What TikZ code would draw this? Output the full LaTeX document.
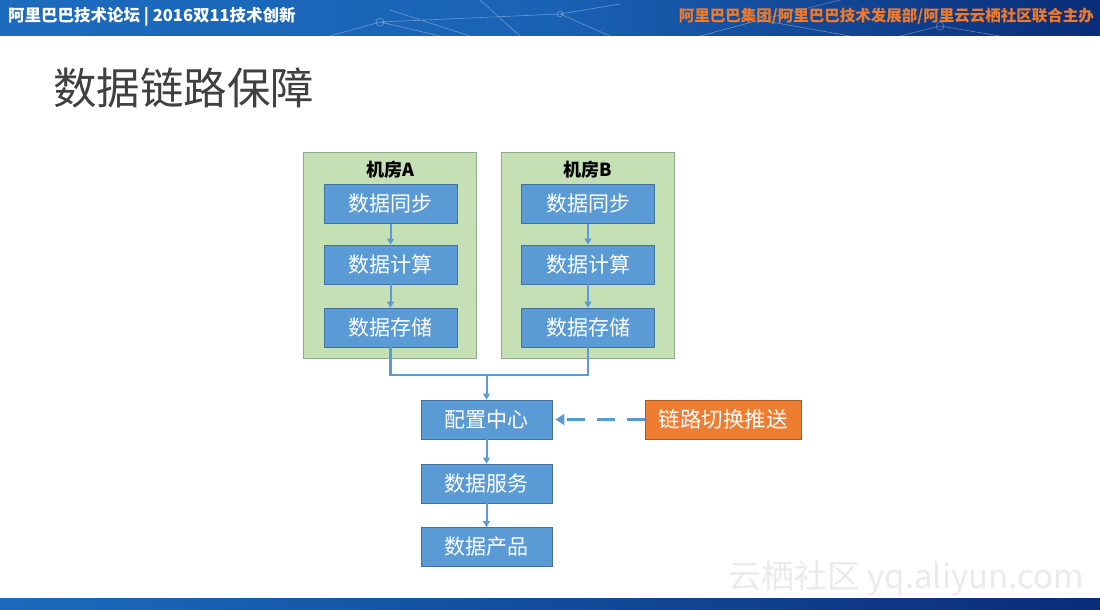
\documentclass[tikz,border=0pt]{standalone}
\usepackage{fontspec}
\setmainfont{Noto Sans CJK SC}
\usetikzlibrary{arrows.meta}
\definecolor{boxblue}{HTML}{5B9BD5}
\definecolor{boxedge}{HTML}{41719C}
\definecolor{roomgreen}{HTML}{C5E0B4}
\definecolor{roomedge}{HTML}{8FA98A}
\definecolor{orangebox}{HTML}{ED7D31}
\definecolor{orangeedge}{HTML}{AE5A21}
\definecolor{titlegray}{HTML}{404040}
\definecolor{bannerA}{HTML}{1C6BBE}
\definecolor{bannerM}{HTML}{1A62B4}
\definecolor{bannerB}{HTML}{0A2C78}
\definecolor{bannerorange}{HTML}{F07A2A}
\tikzset{
  stepbox/.style={draw=boxedge, line width=0.8pt, fill=boxblue, text=white,
    minimum width=133pt, minimum height=39pt, inner sep=0pt, font=\fontsize{21}{21}\selectfont},
  roombox/.style={draw=roomedge, line width=0.8pt, fill=roomgreen,
    minimum width=173pt, minimum height=206pt, inner sep=0pt},
  roomtitle/.style={font=\fontsize{18}{18}\selectfont\bfseries, text=black, inner sep=0pt},
  flow/.style={draw=boxblue, line width=2pt, -{Triangle[length=6pt,width=7pt]}},
  bus/.style={draw=boxblue, line width=2.5pt},
  net/.style={draw=white, opacity=0.35, line width=0.6pt}
}
\begin{document}
\begin{tikzpicture}[x=1pt,y=-1pt]
\useasboundingbox (0,0) rectangle (1100,610);
\fill[white] (0,0) rectangle (1100,610);
% top banner
\shade[left color=bannerA, right color=bannerB, middle color=bannerM] (0,0) rectangle (1100,36);
\draw[net] (330,36) -- (380,22) -- (440,36) (380,22) -- (560,14) -- (610,36) (560,14) -- (620,4)
  (700,36) -- (760,20) -- (840,0) (760,20) -- (850,36) (900,36) -- (940,26) -- (1000,36)
  (390,10) -- (470,36) (480,0) -- (520,36);
\draw[net] (940,26) circle (4pt) (380,22) circle (4pt) (560,14) circle (3pt);
\node[anchor=west, text=white, font=\fontsize{16.5}{16.5}\selectfont\bfseries, inner sep=0pt] (btitle) at (8,17) {阿里巴巴技术论坛 | 2016双11技术创新};
\node[anchor=east, text=bannerorange, font=\fontsize{15.5}{15.5}\selectfont\bfseries, inner sep=0pt] (borg) at (1094,16) {阿里巴巴集团/阿里巴巴技术发展部/阿里云云栖社区联合主办};
% bottom banner
\shade[left color=bannerA, right color=bannerB] (0,598) rectangle (1100,610);
% title
\node[anchor=west, text=titlegray, font=\fontsize{43.5}{43.5}\selectfont, inner sep=0pt] (title) at (53,88) {数据链路保障};
% rooms
\node[roombox] (roomA) at (389.5,255) {};
\node[roombox] (roomB) at (588,255) {};
\node[roomtitle] (tA) at (390,170) {机房A};
\node[roomtitle] (tB) at (588,170) {机房B};
% room A steps
\node[stepbox] (syncA) at (390.5,204) {数据同步};
\node[stepbox] (calcA) at (390.5,264.5) {数据计算};
\node[stepbox] (storA) at (390.5,327.5) {数据存储};
% room B steps
\node[stepbox] (syncB) at (588,204) {数据同步};
\node[stepbox] (calcB) at (588,264.5) {数据计算};
\node[stepbox] (storB) at (588,327.5) {数据存储};
\draw[flow] (syncA) -- (calcA);
\draw[flow] (calcA) -- (storA);
\draw[flow] (syncB) -- (calcB);
\draw[flow] (calcB) -- (storB);
% lower chain
\node[stepbox, minimum width=131pt] (cfg) at (486.5,419.5) {配置中心};
\node[stepbox, minimum width=131pt] (svc) at (486.5,483.5) {数据服务};
\node[stepbox, minimum width=131pt] (prod) at (486.5,547) {数据产品};
\node[stepbox, draw=orangeedge, fill=orangebox, minimum width=156pt, font=\fontsize{21.5}{21.5}\selectfont] (push) at (723,419.5) {链路切换推送};
\coordinate (junction) at (486.5,375);
\draw[bus] (storA.south) |- (junction) -| (storB.south);
\draw[flow] (junction) -- (cfg.north);
\draw[flow] (cfg) -- (svc);
\draw[flow] (svc) -- (prod);
\draw[draw=boxblue, line width=3pt, dash pattern=on 18pt off 12pt, -{Triangle[length=9pt,width=11pt]}] (push.west) -- ([xshift=3pt]cfg.east);
% watermark
\node[anchor=west, text=black!8, font=\fontsize{33}{33}\selectfont, inner sep=0pt] (wm) at (728,578) {云栖社区 yq.aliyun.com};
\end{tikzpicture}
\end{document}
